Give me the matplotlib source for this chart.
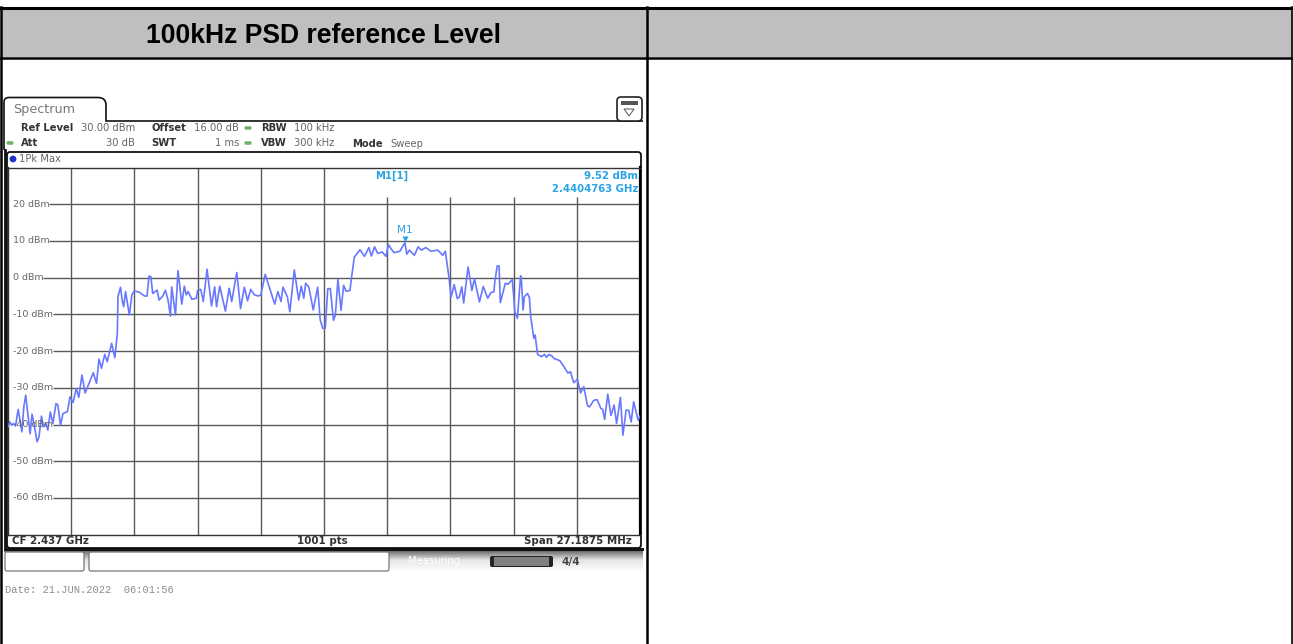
import numpy as np
import matplotlib
matplotlib.use('Agg')
import matplotlib.pyplot as plt
from matplotlib.patches import FancyBboxPatch, Rectangle, Polygon, Circle, PathPatch
from matplotlib.path import Path

# analyser settings
cf_mhz = 2437.0
span_mhz = 27.1875
marker_mhz = 2440.4763
marker_dbm = 9.52
n_div = 10

level_ticks = [20, 10, 0, -10, -20, -30, -40, -50, -60]
level_labels = ['20 dBm', '10 dBm', '0 dBm', '-10 dBm', '-20 dBm', '-30 dBm', '-40 dBm', '-50 dBm', '-60 dBm']

# sweep point (0..1000) and level
trace_pts = [0, 3, 6, 9, 12, 16, 19, 22, 25, 28, 32, 35, 38, 41, 46, 49, 53, 56, 60, 63, 67, 71, 76, 79, 83, 87, 94, 98,
             103, 108, 112, 117, 122, 129, 135, 140, 144, 148, 153, 157, 164, 169, 173, 174, 178, 181, 183, 186, 189, 192,
             196, 200, 208, 216, 220, 223, 226, 229, 236, 239, 245, 249, 253,
             257, 259, 265, 269, 275, 279, 282, 285, 291, 298, 300, 305, 309, 315, 322, 327, 330, 335, 344, 350, 354,
             362, 368, 374, 379, 384, 390, 396, 400, 407, 414, 422, 427, 432, 435, 442, 446, 453, 460, 464, 468, 471,
             476, 483, 490, 494, 498, 502,
             506, 510, 515, 518, 522, 527, 531, 535, 541, 544, 548, 557, 564, 571, 575, 580, 585, 592, 598, 602, 606,
             611, 620, 628, 631, 635, 643, 649, 654, 661, 669, 680, 688, 692, 695, 698, 701, 706, 711, 714, 718, 721,
             728, 734, 738, 746, 752,
             759, 764, 769, 770, 774, 777, 779, 787, 791, 798, 802, 806, 811, 812, 815, 817, 822, 825, 827, 832, 834,
             838, 844, 849, 852, 856, 861, 864, 873, 878, 886, 890, 895, 901, 906, 911, 917, 920, 927, 932, 938, 941,
             944, 949, 954, 959, 963, 969, 973, 978, 982, 986, 990, 997, 1000]
trace_dbm = [-40.6, -39.3, -40.2, -39.7, -40.4, -35.9, -38.8, -42.0, -35.2, -32.0, -37.9, -42.5, -37.2, -39.7, -44.7, -43.4, -37.7, -40.6, -39.7, -41.5, -36.6, -39.7, -34.3, -34.7, -40.2, -37.0, -36.5, -32.5,
             -34.0, -30.2, -32.6, -26.5, -31.4, -28.4, -25.9, -28.8, -22.2, -24.7, -20.9, -22.9, -17.9, -21.8, -15.2, -5.2, -2.6, -6.5, -7.9, -3.8, -7.0, -10.2,
             -4.7, -3.6, -4.0, -5.0, -5.0, 0.4, 0.3, -4.3, -3.4, -6.1, -5.0, -3.4, -5.9,
             -10.5, -2.5, -10.2, 1.9, -7.2, -2.3, -4.7, -3.8, -5.9, -5.6, -3.5, -3.2, -6.5, 2.3, -7.7, -2.5, -7.9, -2.3, -9.1, -2.9, -6.5,
             1.4, -8.4, -2.6, -6.3, -3.2, -4.7, -5.0, -4.7, 0.9, -2.9, -7.2, -3.8, -6.5, -2.6, -5.2, -9.3, 2.1, -6.1, -2.3, -5.6, -1.5,
             -2.6, -8.8, -2.6, -11.5, -13.8, -13.8,
             -3.0, -3.0, -11.6, -10.2, -0.5, -8.9, -2.1, -3.7, -3.5, 0.6, 5.6, 7.6, 5.8, 8.2, 5.9, 8.4, 6.6, 7.0, 5.8, 9.0, 7.9,
             6.8, 7.2, 9.52, 6.4, 7.5, 6.1, 8.4, 7.5, 8.2, 7.2, 7.5, 6.1, 7.2, 3.4, -0.3, -5.3, -1.9, -5.7, -5.3, -2.5, -6.9,
             2.9, -3.5, -0.3, -6.6, -2.4,
             -5.6, -4.1, -3.8, -1.5, 3.2, 3.2, -6.8, -1.5, -1.8, -0.5, -9.3, -11.1, 0.5, 0.3, -8.8, -5.2, -4.3, -5.4, -10.6, -16.5, -15.6,
             -20.9, -21.5, -20.9, -21.7, -20.9, -21.4, -22.0, -22.6, -23.8, -26.0, -25.6, -28.6, -27.7, -31.4, -29.7, -34.9, -35.2, -33.4, -33.2, -35.6, -35.9,
             -38.6, -31.7, -37.5, -34.7, -39.7, -32.6, -42.9, -36.1, -36.1, -39.3, -33.8, -38.8, -37.7]

W, H = 1293, 644
GRID = '#5a5a5a'
TRACE = '#6878ff'
MARK = '#2aa3e6'
GREY_TXT = '#666666'
BOLD_TXT = '#333333'
FS = 7.2
plt.rcParams['font.family'] = ['DejaVu Sans']

fig = plt.figure(figsize=(W / 100, H / 100), dpi=100, facecolor='white')

# page/table and instrument chrome, drawn in pixel coords
bg = fig.add_axes([0, 0, 1, 1])
bg.set_xlim(0, W)
bg.set_ylim(H, 0)
bg.axis('off')

bg.add_patch(Rectangle((1, 8), W - 2, 49, fc='#bfbfbf', ec='none'))
bg.plot([0, W], [7.5, 7.5], color='black', lw=2.2)
bg.plot([0, W], [58, 58], color='black', lw=1.8)
bg.plot([647, 647], [7, H], color='black', lw=1.8)
bg.plot([0.8, 0.8], [7, H], color='black', lw=1.8)
bg.plot([W - 0.7, W - 0.7], [7, H], color='black', lw=1.2)
bg.text(323, 36, '100kHz PSD reference Level', ha='center', va='center', fontsize=19.1,
        fontweight='bold', family='Liberation Sans', color='black')

# tab and instrument frame
tab = Path([(4, 150), (4, 102), (4, 97.5), (9, 97.5), (98, 97.5), (106, 97.5), (106, 105), (106, 121), (643, 121)],
           [Path.MOVETO, Path.LINETO, Path.CURVE3, Path.CURVE3, Path.LINETO, Path.CURVE3, Path.CURVE3, Path.LINETO, Path.LINETO])
bg.add_patch(PathPatch(tab, fc='none', ec='#111111', lw=1.2))
bg.add_patch(FancyBboxPatch((7, 152), 634, 396, boxstyle='round,pad=0,rounding_size=3', fc='white', ec='#111111', lw=1.3))
bg.plot([5, 5], [150, 549], color='#111111', lw=2.0)
bg.plot([7, 642], [548.5, 548.5], color='#111111', lw=2.2)
bg.add_patch(FancyBboxPatch((617, 97), 25, 24, boxstyle='round,pad=0,rounding_size=4', fc='white', ec='#222222', lw=1.2))
bg.add_patch(Rectangle((621, 101), 17, 4, fc='#555555', ec='none'))
bg.add_patch(Polygon([[624, 109], [634, 109], [629, 116]], closed=True, fc='white', ec='#666666', lw=0.8))

bg.text(13, 109, 'Spectrum', fontsize=9.2, color='#777777', va='center')
for x, y, s in [(21, 128, 'Ref Level'), (21, 143, 'Att'), (151, 128, 'Offset'), (151, 143, 'SWT'),
                (261, 128, 'RBW'), (261, 143, 'VBW'), (352, 144, 'Mode')]:
    bg.text(x, y, s, fontsize=FS, fontweight='bold', color=BOLD_TXT, va='center')
for x, y, s in [(135, 128, '30.00 dBm'), (135, 143, '30 dB'), (239, 128, '16.00 dB'), (239, 143, '1 ms')]:
    bg.text(x, y, s, fontsize=FS, color=GREY_TXT, va='center', ha='right')
for x, y, s in [(294, 128, '100 kHz'), (294, 143, '300 kHz'), (390, 144, 'Sweep')]:
    bg.text(x, y, s, fontsize=FS, color=GREY_TXT, va='center')
for x, y in [(10, 143), (248, 128), (248, 143)]:
    bg.add_patch(FancyBboxPatch((x - 3.5, y - 1.8), 7, 3.6, boxstyle='round,pad=0,rounding_size=1.5', fc='#6fb36f', ec='none'))
bg.add_patch(Circle((13, 159), 3.4, fc='#2233cc', ec='none', zorder=3))
bg.text(19, 159, '1Pk Max', fontsize=FS, color=GREY_TXT, va='center')
bg.text(12, 541.5, 'CF 2.437 GHz', fontsize=7.4, fontweight='bold', color=BOLD_TXT, va='center')
bg.text(322, 541.5, '1001 pts', fontsize=7.4, fontweight='bold', color=BOLD_TXT, va='center', ha='center')
bg.text(632, 541.5, 'Span 27.1875 MHz', fontsize=7.4, fontweight='bold', color=BOLD_TXT, va='center', ha='right')

# status bar below the frame
shade = np.concatenate([np.linspace(0.35, 0.9, 12), np.linspace(0.9, 1.0, 12)]).reshape(-1, 1)
bg.imshow(shade, extent=(84, 643, 572, 549.5), cmap='gray', vmin=0, vmax=1, aspect='auto', zorder=1)
bg.set_xlim(0, W)
bg.set_ylim(H, 0)
bg.add_patch(FancyBboxPatch((5, 552), 79, 19, boxstyle='round,pad=0,rounding_size=2', fc='white', ec='#777777', lw=0.9, zorder=2))
bg.add_patch(FancyBboxPatch((89, 552), 300, 19, boxstyle='round,pad=0,rounding_size=2', fc='white', ec='#777777', lw=0.9, zorder=2))
bg.add_patch(Rectangle((4, 549.5), 81, 2.5, fc='#777777', ec='none', zorder=1))
bg.text(439, 561.5, 'Measuring...', fontsize=FS, color='white', ha='center', va='center', zorder=3)
bg.add_patch(FancyBboxPatch((490, 556), 63, 11, boxstyle='round,pad=0,rounding_size=2', fc='#222222', ec='none', zorder=3))
bg.add_patch(Rectangle((494, 557), 55, 9, fc='#808080', ec='none', zorder=3))
bg.text(571, 561.5, '4/4', fontsize=7.6, fontweight='bold', color='#444444', ha='center', va='center', zorder=3)

bg.text(5, 590, 'Date: 21.JUN.2022  06:01:56', fontsize=7.5, family='Liberation Mono', color='#8c8c8c', va='center')

# the spectrum plot itself
left, right, top, bottom = 8.0, 640.0, 167.5, 534.7
ax = fig.add_axes([left / W, 1 - bottom / H, (right - left) / W, (bottom - top) / H])
ax.patch.set_alpha(0)

f_lo = cf_mhz - span_mhz / 2
f_hi = cf_mhz + span_mhz / 2
ax.set_xlim(f_lo, f_hi)
ax.set_ylim(-70, 30)
ax.set_xticks([])
ax.set_yticks([])
for sp in ax.spines.values():
    sp.set_color('#333333')
    sp.set_linewidth(1.0)
ax.spines['right'].set_color('black')
ax.spines['right'].set_linewidth(1.6)

div_mhz = f_lo + np.arange(1, n_div) * span_mhz / n_div
ax.vlines(div_mhz[:5], -70, 30, color=GRID, lw=1.0, zorder=1)
ax.vlines(div_mhz[5:], -70, 22, color=GRID, lw=1.0, zorder=1)

# grid lines only start after the level label
label_end = [0.065, 0.065, 0.055, 0.071, 0.071, 0.071, 0.071, 0.071, 0.071]
for lev, lab, x0 in zip(level_ticks, level_labels, label_end):
    ax.hlines(lev, x0, 1, transform=ax.get_yaxis_transform(), color=GRID, lw=1.0, zorder=1)
    ax.text(0.008, lev, lab, transform=ax.get_yaxis_transform(), fontsize=6.8, color=GREY_TXT,
            va='center', ha='left', zorder=4)

trace_mhz = f_lo + np.array(trace_pts) / 1000 * span_mhz
ax.plot(trace_mhz, trace_dbm, color=TRACE, lw=1.2, solid_joinstyle='round', zorder=3)

ax.plot([marker_mhz], [marker_dbm + 0.9], marker='v', ms=4.5, color=MARK, mec='none', zorder=5)
ax.annotate('M1', (marker_mhz, marker_dbm), xytext=(0, 9), textcoords='offset points', fontsize=7.6,
            color=MARK, ha='center', va='center', zorder=5)
ax.text(0.6076, 27.7, 'M1[1]', transform=ax.get_yaxis_transform(), fontsize=FS, fontweight='bold', color=MARK, ha='center', va='center')
ax.text(0.997, 27.7, '9.52 dBm', transform=ax.get_yaxis_transform(), fontsize=7.3, fontweight='bold', color=MARK, ha='right', va='center')
ax.text(0.997, 24.1, '2.4404763 GHz', transform=ax.get_yaxis_transform(), fontsize=7.3, fontweight='bold', color=MARK, ha='right', va='center')

fig.savefig('out.png', dpi=100)
